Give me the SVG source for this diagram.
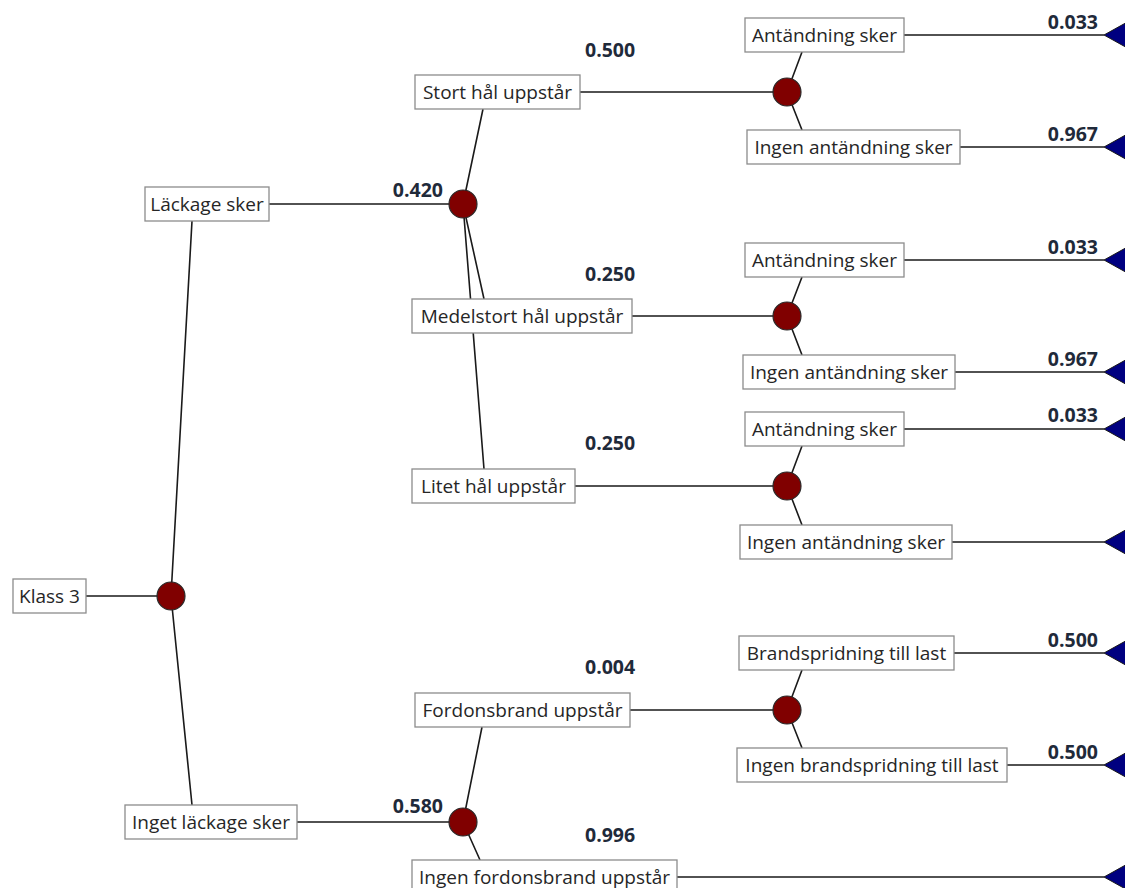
<svg xmlns="http://www.w3.org/2000/svg" width="1125" height="888" viewBox="0 0 1125 888">
<style>
.bg{fill:#ffffff}
.box{fill:#ffffff;stroke:#8c8c8c;stroke-width:1.3}
.lbl{font-family:"Open Sans","Noto Sans","Liberation Sans",sans-serif;font-size:19px;fill:#262626;text-anchor:middle}
.prob{font-family:"Open Sans","Noto Sans","Liberation Sans",sans-serif;font-size:19.5px;font-weight:bold;fill:#1f2a3a}
.end{text-anchor:end}
.ln{stroke:#1a1a1a;stroke-width:1.6;fill:none}
.chance{fill:#800000;stroke:#2a2a2a;stroke-width:1.2}
.term{fill:#000080;stroke:#1a1a1a;stroke-width:1}
</style>
<rect class="bg" x="0" y="0" width="1125" height="888"/>
<g id="connectors">
  <path class="ln" d="M86 596H171 M171 596L192 221 M171 596L192 805"/>
  <path class="ln" d="M269 204H463 M463 204L483 109 M463 204L484 299 M463 204L484 469"/>
  <path class="ln" d="M297 822H463 M463 822L482 727 M463 822L480 860"/>
  <path class="ln" d="M580 92H787 M787 92L802 52 M787 92L802 130"/>
  <path class="ln" d="M632 316H787 M787 316L802 277 M787 316L802 355"/>
  <path class="ln" d="M575 486H787 M787 486L802 446 M787 486L802 525"/>
  <path class="ln" d="M630 710H787 M787 710L802 670 M787 710L802 748"/>
  <path class="ln" d="M904 35H1104 M960 147H1104 M904 260H1104 M955 372H1104 M904 429H1104 M952 542H1104 M954 653H1104 M1007 765H1104 M677 877H1104"/>
</g>
<g id="probabilities">
  <text class="prob end" x="443" y="197">0.420</text>
  <text class="prob end" x="443" y="813">0.580</text>
  <text class="prob" x="585" y="57">0.500</text>
  <text class="prob" x="585" y="281">0.250</text>
  <text class="prob" x="585" y="450">0.250</text>
  <text class="prob" x="585" y="674">0.004</text>
  <text class="prob" x="585" y="842">0.996</text>
  <text class="prob end" x="1098" y="29">0.033</text>
  <text class="prob end" x="1098" y="141">0.967</text>
  <text class="prob end" x="1098" y="254">0.033</text>
  <text class="prob end" x="1098" y="366">0.967</text>
  <text class="prob end" x="1098" y="422">0.033</text>
  <text class="prob end" x="1098" y="647">0.500</text>
  <text class="prob end" x="1098" y="759">0.500</text>
</g>
<g id="n-klass3"><rect class="box" x="13" y="579" width="73" height="34"/><text class="lbl" x="49.5" y="603">Klass 3</text></g>
<g id="n-lackage"><rect class="box" x="145" y="187" width="124" height="34"/><text class="lbl" x="207" y="211">Läckage sker</text></g>
<g id="n-inget-lackage"><rect class="box" x="125" y="805" width="172" height="34"/><text class="lbl" x="211" y="829">Inget läckage sker</text></g>
<g id="n-stort"><rect class="box" x="415" y="75" width="165" height="34"/><text class="lbl" x="497.5" y="99">Stort hål uppstår</text></g>
<g id="n-medel"><rect class="box" x="412" y="299" width="220" height="34"/><text class="lbl" x="522" y="323">Medelstort hål uppstår</text></g>
<g id="n-litet"><rect class="box" x="412" y="469" width="163" height="34"/><text class="lbl" x="493.5" y="493">Litet hål uppstår</text></g>
<g id="n-fordon"><rect class="box" x="415" y="693" width="215" height="34"/><text class="lbl" x="522.5" y="717">Fordonsbrand uppstår</text></g>
<g id="n-ingen-fordon"><rect class="box" x="412" y="860" width="265" height="34"/><text class="lbl" x="544.5" y="884">Ingen fordonsbrand uppstår</text></g>
<g id="n-ant1"><rect class="box" x="745" y="18" width="159" height="34"/><text class="lbl" x="824.5" y="42">Antändning sker</text></g>
<g id="n-ingen-ant1"><rect class="box" x="747" y="130" width="213" height="34"/><text class="lbl" x="853.5" y="154">Ingen antändning sker</text></g>
<g id="n-ant2"><rect class="box" x="745" y="243" width="159" height="34"/><text class="lbl" x="824.5" y="267">Antändning sker</text></g>
<g id="n-ingen-ant2"><rect class="box" x="743" y="355" width="212" height="34"/><text class="lbl" x="849" y="379">Ingen antändning sker</text></g>
<g id="n-ant3"><rect class="box" x="745" y="412" width="159" height="34"/><text class="lbl" x="824.5" y="436">Antändning sker</text></g>
<g id="n-ingen-ant3"><rect class="box" x="740" y="525" width="212" height="34"/><text class="lbl" x="846" y="549">Ingen antändning sker</text></g>
<g id="n-brand"><rect class="box" x="739" y="636" width="215" height="34"/><text class="lbl" x="846.5" y="660">Brandspridning till last</text></g>
<g id="n-ingen-brand"><rect class="box" x="737" y="748" width="270" height="34"/><text class="lbl" x="872" y="772">Ingen brandspridning till last</text></g>
<g id="chance-nodes">
  <circle id="c0" class="chance" cx="171" cy="596" r="14"/>
  <circle id="c1" class="chance" cx="463" cy="204" r="14"/>
  <circle id="c3" class="chance" cx="463" cy="822" r="14"/>
  <circle id="c2a" class="chance" cx="787" cy="92" r="14"/>
  <circle id="c2b" class="chance" cx="787" cy="316" r="14"/>
  <circle id="c2c" class="chance" cx="787" cy="486" r="14"/>
  <circle id="c2d" class="chance" cx="787" cy="710" r="14"/>
</g>
<g id="terminal-nodes">
  <polygon class="term" points="1104,35 1140,15 1140,55"/>
  <polygon class="term" points="1104,147 1140,127 1140,167"/>
  <polygon class="term" points="1104,260 1140,240 1140,280"/>
  <polygon class="term" points="1104,372 1140,352 1140,392"/>
  <polygon class="term" points="1104,429 1140,409 1140,449"/>
  <polygon class="term" points="1104,542 1140,522 1140,562"/>
  <polygon class="term" points="1104,653 1140,633 1140,673"/>
  <polygon class="term" points="1104,765 1140,745 1140,785"/>
  <polygon class="term" points="1104,877 1140,857 1140,897"/>
</g>
</svg>
